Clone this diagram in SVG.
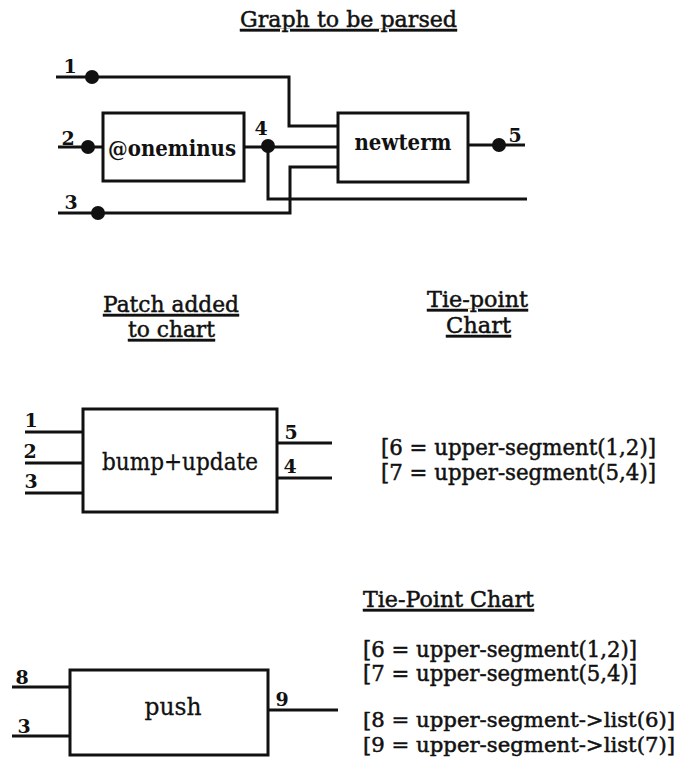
<svg xmlns="http://www.w3.org/2000/svg" width="681" height="768" viewBox="0 0 681 768">
  <style>
    text { font-family: "DejaVu Serif", "Liberation Serif", serif; fill: #111; }
    .head { font-size: 23px; text-decoration: underline; stroke: #111; stroke-width: 0.5; }
    .lbl { font-size: 19px; font-weight: bold; text-anchor: middle; }
    .name { font-size: 22px; font-weight: bold; text-anchor: middle; }
    .op { font-size: 24px; text-anchor: middle; stroke: #111; stroke-width: 0.3; }
    .chart { font-size: 22px; stroke: #111; stroke-width: 0.5; }
    .chart.long { font-size: 20.5px; }
    .box { fill: #fff; stroke: #111; stroke-width: 3; }
    .wire { fill: none; stroke: #111; stroke-width: 3; }
    .dot { fill: #111; }
  </style>
  <rect width="681" height="768" fill="#fff"/>

  <!-- section headings -->
  <g id="headings">
    <text class="head" x="240" y="27" textLength="217" lengthAdjust="spacingAndGlyphs">Graph to be parsed</text>
    <text class="head" x="103" y="312" textLength="136" lengthAdjust="spacingAndGlyphs">Patch added</text>
    <text class="head" x="128" y="337" textLength="87" lengthAdjust="spacingAndGlyphs">to chart</text>
    <text class="head" x="427" y="307" textLength="101" lengthAdjust="spacingAndGlyphs">Tie-point</text>
    <text class="head" x="446" y="333" textLength="65" lengthAdjust="spacingAndGlyphs">Chart</text>
    <text class="head" x="363" y="607" textLength="171" lengthAdjust="spacingAndGlyphs">Tie-Point Chart</text>
  </g>

  <!-- wires of the graph and the patches -->
  <g id="connectors">
    <path class="wire" d="M56 77 H289 V126 H338"/>
    <path class="wire" d="M58 147 H103"/>
    <path class="wire" d="M244 147 H338"/>
    <path class="wire" d="M268 146 V199 H527"/>
    <path class="wire" d="M58 213 H290 V167 H338"/>
    <path class="wire" d="M468 145 H525"/>

    <path class="wire" d="M25 432 H83"/>
    <path class="wire" d="M25 463 H83"/>
    <path class="wire" d="M25 493 H83"/>
    <path class="wire" d="M277 443 H332"/>
    <path class="wire" d="M277 478 H332"/>

    <path class="wire" d="M12 687 H70"/>
    <path class="wire" d="M12 736 H70"/>
    <path class="wire" d="M268 710 H338"/>
  </g>

  <!-- tie points of the parsed graph -->
  <g id="tie-points">
    <circle class="dot" cx="92" cy="77" r="7"/>
    <text class="lbl" x="70" y="73">1</text>
    <circle class="dot" cx="88" cy="147" r="7"/>
    <text class="lbl" x="68" y="145">2</text>
    <circle class="dot" cx="98" cy="213" r="7"/>
    <text class="lbl" x="71" y="209">3</text>
    <circle class="dot" cx="268" cy="146" r="7"/>
    <text class="lbl" x="261" y="135">4</text>
    <circle class="dot" cx="499" cy="145" r="7"/>
    <text class="lbl" x="515" y="142">5</text>
  </g>

  <g id="oneminus">
    <rect class="box" x="103" y="113" width="141" height="68"/>
    <text class="name" x="172" y="156" textLength="128" lengthAdjust="spacingAndGlyphs">@oneminus</text>
  </g>

  <g id="newterm">
    <rect class="box" x="338" y="113" width="130" height="69"/>
    <text class="name" x="403" y="150" textLength="97" lengthAdjust="spacingAndGlyphs">newterm</text>
  </g>

  <g id="bump-update">
    <rect class="box" x="83" y="409" width="194" height="103"/>
    <text class="op" x="180" y="470" textLength="156" lengthAdjust="spacingAndGlyphs">bump+update</text>
    <text class="lbl" x="31" y="427">1</text>
    <text class="lbl" x="30" y="458">2</text>
    <text class="lbl" x="31" y="488">3</text>
    <text class="lbl" x="291" y="439">5</text>
    <text class="lbl" x="290" y="473">4</text>
  </g>

  <g id="push">
    <rect class="box" x="70" y="670" width="198" height="85"/>
    <text class="op" x="173" y="715" textLength="57" lengthAdjust="spacingAndGlyphs">push</text>
    <text class="lbl" x="22" y="684">8</text>
    <text class="lbl" x="24" y="733">3</text>
    <text class="lbl" x="282" y="706">9</text>
  </g>

  <!-- tie-point chart entries -->
  <g id="chart-1">
    <text class="chart" x="381" y="455" textLength="275" lengthAdjust="spacingAndGlyphs">[6 = upper-segment(1,2)]</text>
    <text class="chart" x="381" y="480" textLength="275" lengthAdjust="spacingAndGlyphs">[7 = upper-segment(5,4)]</text>
  </g>
  <g id="chart-2">
    <text class="chart" x="363" y="657" textLength="274" lengthAdjust="spacingAndGlyphs">[6 = upper-segment(1,2)]</text>
    <text class="chart" x="363" y="681" textLength="274" lengthAdjust="spacingAndGlyphs">[7 = upper-segment(5,4)]</text>
    <text class="chart long" x="363" y="727" textLength="312" lengthAdjust="spacingAndGlyphs">[8 = upper-segment-&gt;list(6)]</text>
    <text class="chart long" x="363" y="752" textLength="312" lengthAdjust="spacingAndGlyphs">[9 = upper-segment-&gt;list(7)]</text>
  </g>
</svg>
